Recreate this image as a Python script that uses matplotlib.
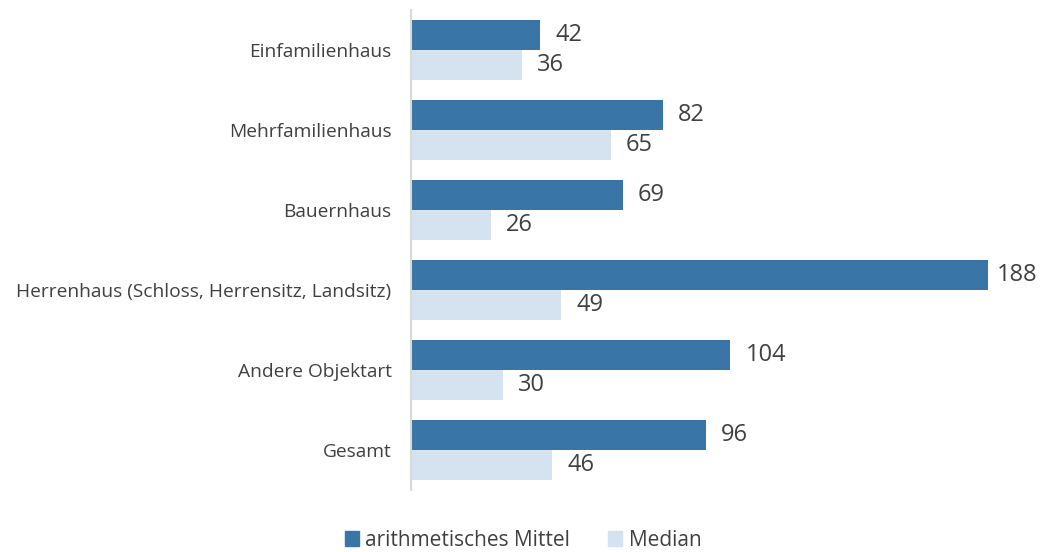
import numpy as np
import matplotlib.pyplot as plt
from matplotlib.patches import Patch

categories = ["Einfamilienhaus", "Mehrfamilienhaus", "Bauernhaus",
              "Herrenhaus (Schloss, Herrensitz, Landsitz)", "Andere Objektart", "Gesamt"]
mittel = [42, 82, 69, 188, 104, 96]
median = [36, 65, 26, 49, 30, 46]

dark = "#3A75A8"
light = "#D5E3F0"
text_col = "#404040"

plt.rcParams["font.family"] = ["Open Sans", "DejaVu Sans"]

fig = plt.figure(figsize=(10.41, 5.52), dpi=100)
ax = fig.add_axes([411 / 1041, 62 / 552, 614 / 1041, 480 / 552])

y = np.arange(len(categories))
h = 0.375
ax.barh(y - h / 2, mittel, height=h, color=dark)
ax.barh(y + h / 2, median, height=h, color=light)

# value labels, the longest bar gets a tighter gap so it stays inside the figure
for yi, m, md in zip(y, mittel, median):
    off = 6 if m == max(mittel) else 11
    ax.annotate(str(m), (m, yi - h / 2), xytext=(off, 0), textcoords="offset points",
                va="center", ha="left", fontsize=17, color=text_col)
    ax.annotate(str(md), (md, yi + h / 2), xytext=(11, 0), textcoords="offset points",
                va="center", ha="left", fontsize=17, color=text_col)

ax.set_xlim(0, 200)
ax.set_ylim(len(categories) - 0.5, -0.5)
ax.set_yticks(y)
ax.set_yticklabels(categories, fontsize=13.8, color=text_col)
ax.tick_params(axis="y", length=0, pad=14)
ax.set_xticks([])
for s in ["top", "right", "bottom"]:
    ax.spines[s].set_visible(False)
ax.spines["left"].set_color("#D9D9D9")
ax.spines["left"].set_linewidth(1.5)

handles = [Patch(color=dark, label="arithmetisches Mittel"), Patch(color=light, label="Median")]
fig.legend(handles=handles, loc="center", bbox_to_anchor=(523 / 1041, 1 - 540 / 552),
           ncol=2, frameon=False, fontsize=15, labelcolor=text_col,
           handlelength=0.7, handleheight=0.7, handletextpad=0.3, columnspacing=1.8)

fig.savefig("out.png", dpi=100)
